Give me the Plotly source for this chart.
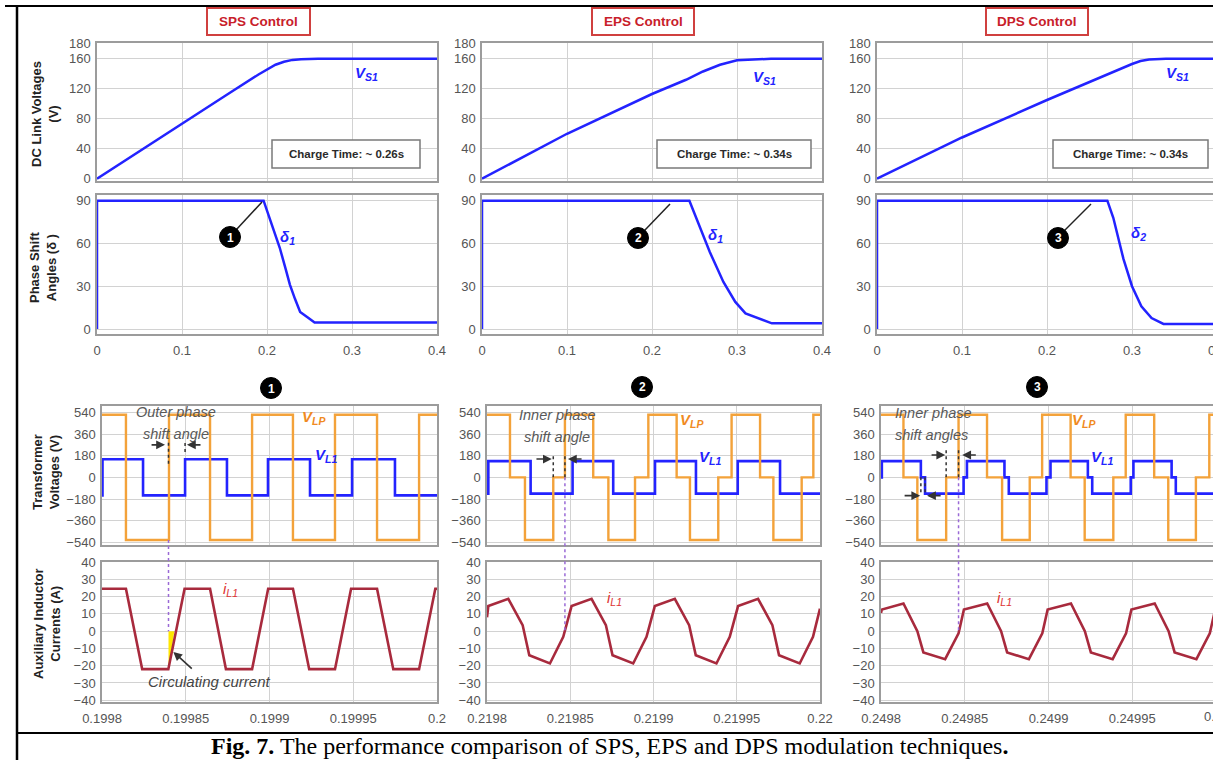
import plotly.graph_objects as go

W, H = 1213, 760
FONT = "Liberation Sans, Arial, sans-serif"

# ------------------------------------------------------------------ data
col_titles = ["SPS Control", "EPS Control", "DPS Control"]
charge_labels = ["Charge Time: ~ 0.26s", "Charge Time: ~ 0.34s", "Charge Time: ~ 0.34s"]
row_titles = ["DC Link Voltages<br>(V)", "Phase Shift<br>Angles (δ )",
              "Transformer<br>Voltages (V)", "Auxiliary Inductor<br>Currents (A)"]
vs_labels = ["V<sub>S1</sub>", "V<sub>S1</sub>", "V<sub>S1</sub>"]
delta_labels = ["δ<sub>1</sub>", "δ<sub>1</sub>", "δ<sub>2</sub>"]
vlp_labels = ["V<sub>LP</sub>"] * 3
vl1_labels = ["V<sub>L1</sub>"] * 3
il_labels = ["i<sub>L1</sub>"] * 3
marker_numbers = ["1", "2", "3"]
phase_notes = [("Outer phase", "shift angle"), ("Inner phase", "shift angle"),
               ("Inner phase", "shift angles")]
caption = ("<b>Fig. 7.</b> The performance comparison of SPS, EPS and DPS "
           "modulation techniques<b>.</b>")

t_tickvals = [0, 0.1, 0.2, 0.3, 0.4]
t_ticktext = ["0", "0.1", "0.2", "0.3", "0.4"]
vs_tickvals = [0, 40, 80, 120, 160, 180]
delta_tickvals = [0, 30, 60, 90]
vt_tickvals = [-540, -360, -180, 0, 180, 360, 540]
il_tickvals = [-40, -30, -20, -10, 0, 10, 20, 30, 40]

# DC link voltage V_S1 (s, V)
sps_vs_t = [0, 0.05, 0.10, 0.15, 0.19, 0.20, 0.21, 0.22, 0.23, 0.24, 0.26, 0.40]
sps_vs_v = [0, 37, 74, 110, 139, 146, 152, 156, 158.5, 159.5, 160, 160]
eps_vs_t = [0, 0.10, 0.20, 0.24, 0.26, 0.28, 0.30, 0.32, 0.34, 0.40]
eps_vs_v = [0, 60, 113, 132, 143, 152, 158, 159.5, 160, 160]
dps_vs_t = [0, 0.10, 0.20, 0.25, 0.28, 0.30, 0.31, 0.32, 0.34, 0.40]
dps_vs_v = [0, 55, 105, 129, 144, 153, 157, 159, 160, 160]

# phase shift angle delta (s, deg)
sps_d_t = [0, 0, 0.196, 0.205, 0.215, 0.222, 0.227, 0.233, 0.239, 0.248, 0.256, 0.40]
sps_d_v = [0, 90, 90, 74, 57, 42, 31, 21, 12, 8, 4.5, 4.5]
eps_d_t = [0, 0, 0.244, 0.252, 0.268, 0.284, 0.298, 0.310, 0.341, 0.40]
eps_d_v = [0, 90, 90, 78, 54, 33, 19, 11, 4, 4]
dps_d_t = [0, 0, 0.271, 0.278, 0.290, 0.300, 0.311, 0.323, 0.337, 0.40]
dps_d_v = [0, 90, 90, 78, 49, 30, 16, 7.7, 3.6, 3.6]

# zoomed windows: start (s); waveform times are in microseconds after start
win_start = [0.1998, 0.2198, 0.2498]
win_tick_us = [0, 50, 100, 150, 200]
win_ticktext = [["0.1998", "0.19985", "0.1999", "0.19995", "0.2"],
                ["0.2198", "0.21985", "0.2199", "0.21995", "0.22"],
                ["0.2498", "0.24985", "0.2499", "0.24995", "0.25"]]

# transformer voltages (step waveforms, value holds until next time)
sps_vlp_us = [0, 14.3, 40.0, 64.5, 89.6, 114.0, 139.1, 164.2, 189.3, 200]
sps_vlp_v = [520, -520, 520, -520, 520, -520, 520, -520, 520, 520]
sps_vl1_us = [0, 0.3, 24.5, 49.6, 74.6, 99.1, 124.2, 149.3, 174.9, 200]
sps_vl1_v = [-150, 150, -150, 150, -150, 150, -150, 150, -150, -150]

eps_vlp_us = [0, 13.8, 22.8, 39.8, 46.8, 63.8, 72.9, 88.9, 96.9, 113.9, 121.9,
              138.9, 146.9, 164.0, 172.0, 189.0, 196.0, 200]
eps_vlp_v = [520, 0, -520, 0, 520, 0, -520, 0, 520, 0, -520, 0, 520, 0, -520, 0, 520, 520]
eps_vl1_us = [0, 0.8, 26.2, 51.4, 75.8, 100.9, 125.5, 150.6, 176.0, 200]
eps_vl1_v = [-135, 135, -135, 135, -135, 135, -135, 135, -135, -135]

dps_vlp_us = [0, 13.4, 21.7, 38.9, 46.3, 63.3, 72.3, 88.8, 96.2, 113.2, 121.6,
              138.7, 146.1, 163.1, 171.5, 188.0, 196.0, 200]
dps_vlp_v = [520, 0, -520, 0, 520, 0, -520, 0, 520, 0, -520, 0, 520, 0, -520, 0, 520, 520]
dps_vl1_us = [0, 0.5, 23.8, 26.3, 49.3, 51.3, 73.7, 76.3, 98.8, 101.2, 123.5, 126.1,
              149.1, 150.7, 173.5, 176.0, 200]
dps_vl1_v = [0, 135, 0, -135, 0, 135, 0, -135, 0, 135, 0, -135, 0, 135, 0, -135, -135]

# auxiliary inductor currents (A)
sps_il_us = [0, 14.3, 24.0, 39.6, 49.3, 64.5, 74.0, 89.6, 99.2, 114.0, 123.7,
             139.1, 148.7, 164.2, 173.9, 189.3, 199.0, 200]
sps_il_v = [24.5, 24.5, -22, -22, 24.5, 24.5, -22, -22, 24.5, 24.5, -22,
            -22, 24.5, 24.5, -22, -22, 24.5, 24.5]
eps_il_us = [0, 0.8, 12.8, 21.4, 25.4, 37.8, 45.8, 50.8, 62.8, 71.4, 75.4, 87.8,
             95.8, 100.8, 112.8, 121.4, 125.4, 137.8, 145.8, 150.8, 162.8, 171.4,
             175.4, 187.8, 195.8, 200]
eps_il_v = [8, 14.5, 18.7, 3.5, -14, -18.7, -3.3, 14.5, 18.7, 3.5, -14, -18.7,
            -3.3, 14.5, 18.7, 3.5, -14, -18.7, -3.3, 14.5, 18.7, 3.5,
            -14, -18.7, -3.3, 13]
dps_il_us = [0, 0.5, 13.4, 21.7, 25.3, 38.3, 46.3, 49.5, 63.4, 71.7, 75.3, 88.3,
             96.3, 99.5, 113.4, 121.7, 125.3, 138.3, 146.3, 149.5, 163.4, 171.7,
             175.3, 188.3, 196.3, 199.5]
dps_il_v = [10.5, 12.5, 16, 0, -12.3, -16.2, -1.3, 12.5, 16, 0, -12.3, -16.2,
            -1.3, 12.5, 16, 0, -12.3, -16.2, -1.3, 12.5, 16, 0,
            -12.3, -16.2, -1.3, 12.5]

# circulating-current highlight (SPS)
circ_us = [39.7, 39.7, 43.2, 39.7]
circ_i = [-22, 0, 0, -22]

vs_series = [(sps_vs_t, sps_vs_v), (eps_vs_t, eps_vs_v), (dps_vs_t, dps_vs_v)]
d_series = [(sps_d_t, sps_d_v), (eps_d_t, eps_d_v), (dps_d_t, dps_d_v)]
vlp_series = [(sps_vlp_us, sps_vlp_v), (eps_vlp_us, eps_vlp_v), (dps_vlp_us, dps_vlp_v)]
vl1_series = [(sps_vl1_us, sps_vl1_v), (eps_vl1_us, eps_vl1_v), (dps_vl1_us, dps_vl1_v)]
il_series = [(sps_il_us, sps_il_v), (eps_il_us, eps_il_v), (dps_il_us, dps_il_v)]

# ------------------------------------------------------------------ style / geometry
BLUE = "#2323ff"
ORANGE = "#f3a23a"
CURR = "#a82a3d"
GRID = "#d2d2d2"
AXLINE = "#9c9c9c"
TICKC = "#555555"

X_TOP = [(97, 437), (482, 822), (877, 1217)]
X_BOT = [(102, 437), (487, 820), (881, 1216)]
Y_ROW = [(43, 181), (195, 334), (406, 545), (562, 702)]
Y_RANGE = [(-3, 181), (-3.5, 94), (-562, 593), (-41, 40)]
Y_TICKS = [vs_tickvals, delta_tickvals, vt_tickvals, il_tickvals]


def px(x):
    return x / W


def py(y):
    return 1 - y / H


def us(c, vals):
    return [win_start[c] + v * 1e-6 for v in vals]


def kid(r, c):
    return r * 3 + c + 1


def axn(k, a):
    return a if k == 1 else f"{a}{k}"


fig = go.Figure()
layout = dict(width=W, height=H, autosize=False,
              margin=dict(l=0, r=0, t=0, b=0, pad=0, autoexpand=False),
              paper_bgcolor="white", plot_bgcolor="white", showlegend=False,
              font=dict(family=FONT, color="#333"))

for r in range(4):
    for c in range(3):
        k = kid(r, c)
        top = r < 2
        p0, p1 = (X_TOP if top else X_BOT)[c]
        if top:
            r0, r1 = 0.0, 0.4
            tv, tt = t_tickvals, t_ticktext
        else:
            r0, r1 = win_start[c], win_start[c] + 200e-6
            tv, tt = us(c, win_tick_us), win_ticktext[c]
        if p1 > W:
            r1 = r0 + (r1 - r0) * (W - p0) / (p1 - p0)
            p1 = W
        yp0, yp1 = Y_ROW[r]
        common = dict(showgrid=True, gridcolor=GRID, gridwidth=1.2, showline=True,
                      linecolor=AXLINE, linewidth=1.5, zeroline=False, fixedrange=True,
                      automargin=False,
                      tickfont=dict(size=13, color=TICKC, family=FONT))
        layout["xaxis" if k == 1 else f"xaxis{k}"] = dict(
            domain=[px(p0), px(p1)], range=[r0, r1], anchor=axn(k, "y"),
            tickvals=tv, ticktext=tt, showticklabels=r in (1, 3), mirror=True,
            ticks="outside", ticklen=4, tickcolor="rgba(0,0,0,0)", **common)
        layout["yaxis" if k == 1 else f"yaxis{k}"] = dict(
            domain=[py(yp1), py(yp0)], range=list(Y_RANGE[r]), anchor=axn(k, "x"),
            tickvals=Y_TICKS[r], mirror=(c < 2), ticks="outside", ticklen=2,
            tickcolor="rgba(0,0,0,0)", **common)


def add(k, x, y, color, width=2.5, shape="linear", **kw):
    fig.add_trace(go.Scatter(x=x, y=y, mode="lines", xaxis=axn(k, "x"), yaxis=axn(k, "y"),
                             line=dict(color=color, width=width, shape=shape),
                             hoverinfo="skip", **kw))


for c in range(3):
    add(kid(0, c), *vs_series[c], BLUE)
    add(kid(1, c), *d_series[c], BLUE)
    add(kid(2, c), us(c, vl1_series[c][0]), vl1_series[c][1], BLUE, 2.6, "hv")
    add(kid(2, c), us(c, vlp_series[c][0]), vlp_series[c][1], ORANGE, 2.4, "hv")
    if c == 0:
        fig.add_trace(go.Scatter(x=us(0, circ_us), y=circ_i, mode="lines", fill="toself",
                                 fillcolor="#ffe600", line=dict(width=0, color="#ffe600"),
                                 xaxis=axn(kid(3, 0), "x"), yaxis=axn(kid(3, 0), "y"),
                                 hoverinfo="skip"))
    add(kid(3, c), us(c, il_series[c][0]), il_series[c][1], CURR, 2.6)

shapes = []
annotations = []


def text(x, y, t, size=13, color="#333", family=FONT, **kw):
    annotations.append(dict(x=px(x), y=py(y), xref="paper", yref="paper", text=t,
                            showarrow=False, font=dict(size=size, color=color, family=family),
                            xanchor="center", yanchor="middle", **kw))


# frame of the figure
shapes += [
    dict(type="line", xref="paper", yref="paper", x0=px(17), x1=px(17), y0=py(5), y1=py(760),
         line=dict(color="black", width=2.5)),
    dict(type="line", xref="paper", yref="paper", x0=px(5), x1=px(W), y0=py(6), y1=py(6),
         line=dict(color="black", width=2)),
    dict(type="line", xref="paper", yref="paper", x0=px(17), x1=px(W), y0=py(733), y1=py(733),
         line=dict(color="black", width=2)),
]

# row titles
for (x, y), t in zip([(45, 114), (43, 268), (46, 472), (47, 624)], row_titles):
    text(x, y, "<b>" + t + "</b>", size=13, color="#222", textangle=-90)

# column title boxes
title_boxes = [(207, 8, 310, 35), (592, 8, 694, 35), (986, 8, 1088, 35)]
for (x0, y0, x1, y1), t in zip(title_boxes, col_titles):
    shapes.append(dict(type="rect", xref="paper", yref="paper", x0=px(x0), x1=px(x1),
                       y0=py(y1), y1=py(y0), line=dict(color="#d0403f", width=2),
                       fillcolor="white"))
    text((x0 + x1) / 2, (y0 + y1) / 2 + 0.5, "<b>" + t + "</b>", size=13.5, color="#c8202a")

# charge time boxes
charge_boxes = [(272, 140, 420, 168), (657, 140, 811, 168), (1053, 140, 1208, 168)]
for (x0, y0, x1, y1), t in zip(charge_boxes, charge_labels):
    shapes.append(dict(type="rect", xref="paper", yref="paper", x0=px(x0), x1=px(x1),
                       y0=py(y1), y1=py(y0), line=dict(color="#7a7a7a", width=1.5),
                       fillcolor="white"))
    text((x0 + x1) / 2, (y0 + y1) / 2, "<b>" + t + "</b>", size=11.5, color="#2a2a2a")

# series labels
for c, (x, y) in enumerate([(366, 74), (764, 78), (1177, 74)]):
    text(x, y, "<b><i>" + vs_labels[c] + "</i></b>", size=15, color=BLUE)
for c, (x, y) in enumerate([(287, 238), (715, 235), (1138, 233)]):
    text(x, y, "<b><i>" + delta_labels[c] + "</i></b>", size=15, color=BLUE)
for c, (x, y) in enumerate([(314, 417), (692, 420), (1084, 420)]):
    text(x, y, "<b><i>" + vlp_labels[c] + "</i></b>", size=15, color="#f08a22")
for c, (x, y) in enumerate([(326, 455), (710, 457), (1102, 457)]):
    text(x, y, "<b><i>" + vl1_labels[c] + "</i></b>", size=15, color=BLUE)
for c, (x, y) in enumerate([(230, 589), (614, 598), (1004, 598)]):
    text(x, y, "<i>" + il_labels[c] + "</i>", size=15, color="#dd3333")

# numbered markers
phase_circles = [(230, 237), (638, 238), (1058, 238)]
wave_circles = [(271, 388), (642, 387), (1037, 387)]
connectors = [((236, 230), (262, 202)), ((645, 230), (670, 204)), ((1065, 230), (1091, 204))]
R = 10.5
for c in range(3):
    (a0, b0), (a1, b1) = connectors[c]
    shapes.append(dict(type="line", xref="paper", yref="paper", x0=px(a0), y0=py(b0),
                       x1=px(a1), y1=py(b1), line=dict(color="#222", width=1.5)))
    for (cx, cy) in (phase_circles[c], wave_circles[c]):
        shapes.append(dict(type="circle", xref="paper", yref="paper", x0=px(cx - R),
                           x1=px(cx + R), y0=py(cy + R), y1=py(cy - R),
                           fillcolor="black", line=dict(color="black", width=1)))
        text(cx, cy + 0.5, "<b>" + marker_numbers[c] + "</b>", size=12, color="white")

# phase-shift notes
note_pos = [((176, 412), (176, 434)), ((557, 415), (557, 437)), ((933, 413), (932, 435))]
for c in range(3):
    for (x, y), t in zip(note_pos[c], phase_notes[c]):
        text(x, y, "<i>" + t + "</i>", size=14.5, color="#595959")

# black dotted marker lines in transformer panels (col, us, y0, y1)
dotted = [(0, 39.7, 114, 298), (0, 49.6, 210, 298),
          (1, 39.8, 0, 186), (1, 46.8, 0, 186),
          (2, 38.9, 0, 245), (2, 46.3, 0, 245), (2, 23.8, 0, -130), (2, 26.3, 0, -130)]
for c, u, y0, y1 in dotted:
    k = kid(2, c)
    xv = us(c, [u])[0]
    shapes.append(dict(type="line", xref=axn(k, "x"), yref=axn(k, "y"), x0=xv, x1=xv,
                       y0=y0, y1=y1, line=dict(color="#333", width=1.5, dash="dot")))

# arrows (col, tail_us, tip_us, value)
arrows = [(0, 28.7, 37.6, 270), (0, 59.7, 50.7, 270),
          (1, 28.8, 38.9, 152), (1, 57.7, 48.6, 152),
          (2, 29.3, 38.3, 186), (2, 57.5, 48.5, 186),
          (2, 13.2, 23.4, -152), (2, 36.5, 27.5, -152)]
for c, tail, tip, v in arrows:
    k = kid(2, c)
    annotations.append(dict(x=us(c, [tip])[0], y=v, ax=us(c, [tail])[0], ay=v,
                            xref=axn(k, "x"), yref=axn(k, "y"),
                            axref=axn(k, "x"), ayref=axn(k, "y"), text="",
                            showarrow=True, arrowhead=2, arrowsize=1.1, arrowwidth=1.6,
                            arrowcolor="#333"))


# purple dotted lines spanning transformer -> current panels
def row_py(r, v):
    (top, bot), (lo, hi) = Y_ROW[r], Y_RANGE[r]
    return bot - (v - lo) * (bot - top) / (hi - lo)


purple = [(0, 39.7, -520), (1, 46.8, 0), (2, 46.3, 0)]
for c, u, v in purple:
    k = kid(2, c)
    xv = us(c, [u])[0]
    shapes.append(dict(type="line", xref=axn(k, "x"), yref="paper", x0=xv, x1=xv,
                       y0=py(row_py(2, v)), y1=py(row_py(3, 0)),
                       line=dict(color="#9a6ad6", width=1.5, dash="dot")))

# circulating current annotation
k = kid(3, 0)
annotations.append(dict(x=us(0, [42.6])[0], y=-12, ax=us(0, [54.5])[0], ay=-22.5,
                        xref=axn(k, "x"), yref=axn(k, "y"), axref=axn(k, "x"),
                        ayref=axn(k, "y"), text="", showarrow=True, arrowhead=2,
                        arrowsize=1.1, arrowwidth=1.6, arrowcolor="#333"))
text(209, 681, "<i>Circulating current</i>", size=15, color="#444")

# tick labels cut by the right edge of the picture
text(1217, 350, "0.4", size=13, color=TICKC)
text(1216, 716, "0.25", size=13, color=TICKC)

# caption
text(609, 746, caption, size=24, color="black",
     family="Liberation Serif, Times New Roman, serif")

layout["shapes"] = shapes
layout["annotations"] = annotations
fig.update_layout(**layout)
fig.write_html("out.html", config={"displayModeBar": False},
               post_script="document.body.style.margin='0px';")
